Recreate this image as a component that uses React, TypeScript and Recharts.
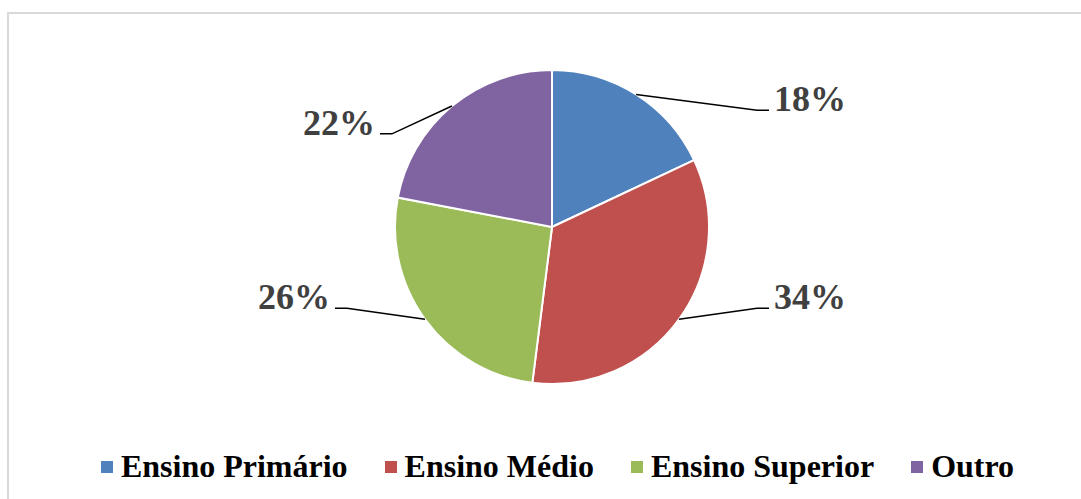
import { Legend, Pie, PieChart, Cell } from 'recharts';

const categories = ['Ensino Primário', 'Ensino Médio', 'Ensino Superior', 'Outro'];
const shares = [18, 34, 26, 22];
const colors = ['#4F81BD', '#C0504D', '#9BBB59', '#8064A2'];

const data = categories.map((name, i) => ({ name, value: shares[i] }));

const SERIF = '"Liberation Serif", "Times New Roman", serif';
const RAD = Math.PI / 180;

function renderLabel(props: any) {
  const { cx, cy, midAngle, outerRadius, percent, index } = props;
  const cos = Math.cos(-midAngle * RAD);
  const sin = Math.sin(-midAngle * RAD);
  const ex = cx + outerRadius * cos;
  const ey = cy + outerRadius * sin;
  const side = cos >= 0 ? 1 : -1;
  // top-left label sits closer to the pie, like Excel's best fit
  const upperLeft = side < 0 && sin < 0;
  const kx = ex + side * (upperLeft ? 60 : Math.max(60, 205 - Math.abs(ex - cx)));
  const ky = ey + (cy - ey) * (upperLeft ? 0.23 : 0.12);
  const hx = kx + side * 12;
  return (
    <g key={`lbl-${index}`}>
      <path d={`M${ex},${ey}L${kx},${ky}L${hx},${ky}`} stroke="#000" strokeWidth={1.5} fill="none" />
      <text
        x={hx + side * 5}
        y={ky + 1}
        textAnchor={side > 0 ? 'start' : 'end'}
        fill="#404040"
        fontFamily={SERIF}
        fontWeight="bold"
        fontSize={36}
      >
        {`${Math.round(percent * 100)}%`}
      </text>
    </g>
  );
}

function LegendBox() {
  return (
    <div
      style={{
        display: 'flex',
        justifyContent: 'center',
        alignItems: 'center',
        paddingLeft: 34,
        fontFamily: SERIF,
        fontWeight: 'bold',
        fontSize: 32,
        color: '#000',
        whiteSpace: 'nowrap',
      }}
    >
      {categories.map((name, i) => (
        <div key={name} style={{ display: 'flex', alignItems: 'center', marginRight: i < categories.length - 1 ? 37 : 0 }}>
          <span style={{ width: 12, height: 12, background: colors[i], marginRight: 8, display: 'inline-block' }} />
          <span>{name}</span>
        </div>
      ))}
    </div>
  );
}

export default function App() {
  return (
    <div style={{ position: 'absolute', left: 0, top: 0, width: 1081, height: 499, overflow: 'hidden', background: '#fff' }}>
      <div
        style={{
          position: 'absolute',
          left: 7,
          top: 12,
          width: 1200,
          height: 700,
          border: '2px solid #d9d9d9',
          boxSizing: 'border-box',
        }}
      />
      <div style={{ position: 'absolute', left: 0, top: 0 }}>
        <PieChart width={1081} height={499}>
          <Pie
            data={data}
            dataKey="value"
            nameKey="name"
            cx={547}
            cy={222}
            outerRadius={157}
            startAngle={90}
            endAngle={-270}
            stroke="#fff"
            strokeWidth={2}
            label={renderLabel}
            labelLine={false}
            isAnimationActive={false}
          >
            {data.map((_, i) => (
              <Cell key={i} fill={colors[i]} />
            ))}
          </Pie>
          <Legend content={<LegendBox />} wrapperStyle={{ left: 0, top: 448, width: 1081 }} />
        </PieChart>
      </div>
    </div>
  );
}
